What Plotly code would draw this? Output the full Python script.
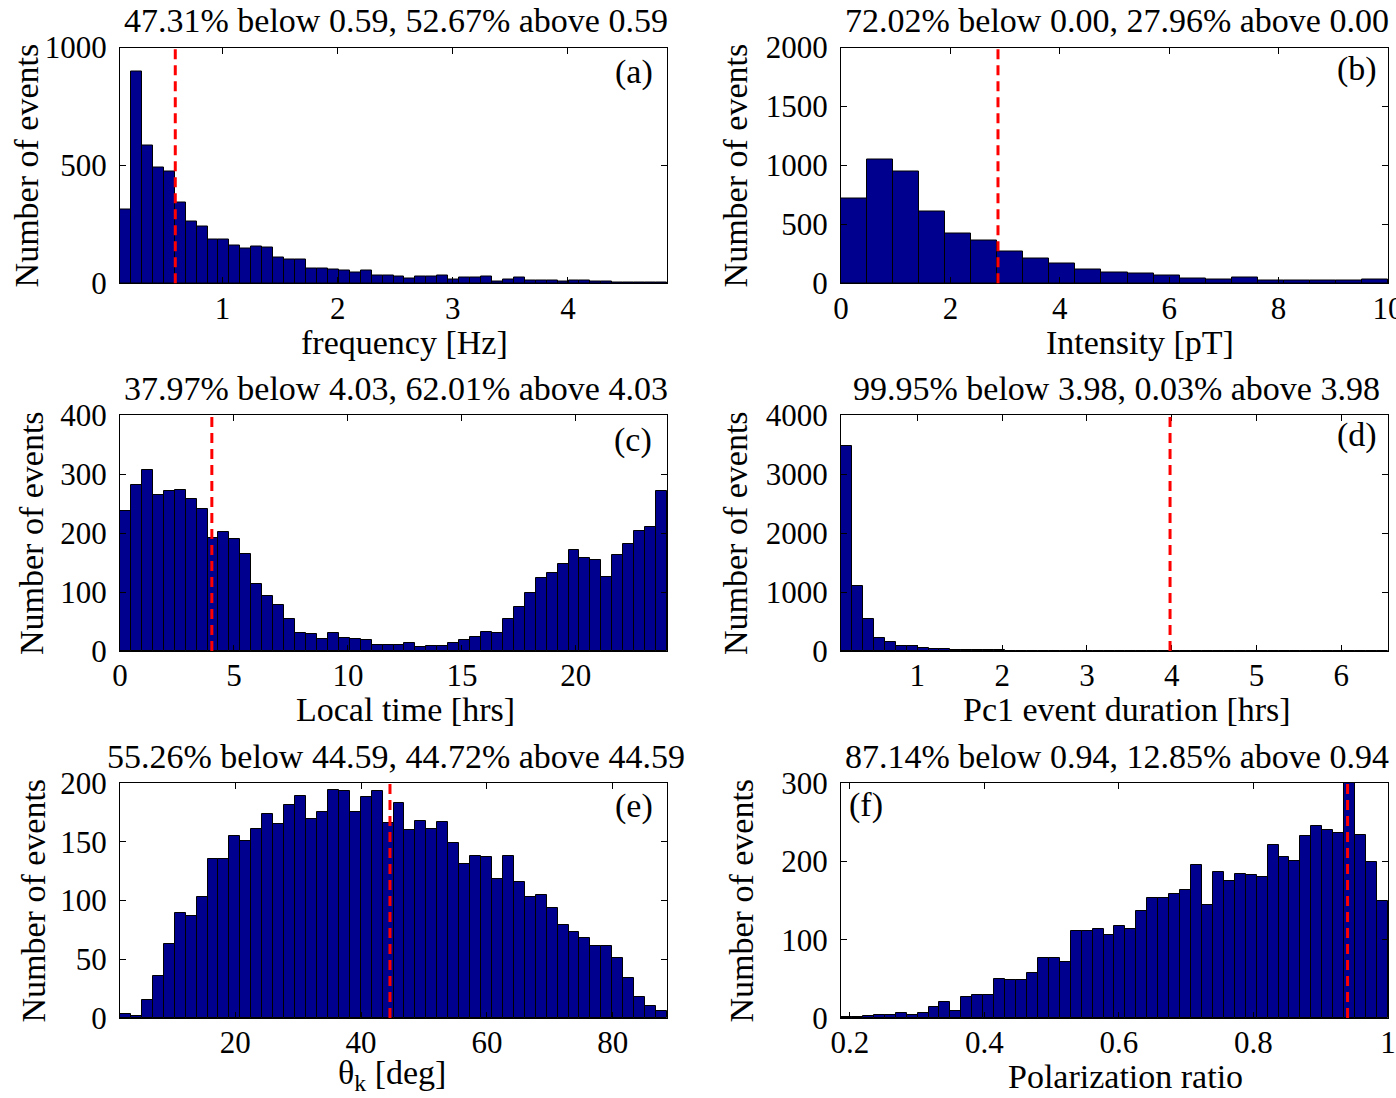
import numpy as np
import plotly.graph_objects as go

W, H = 1396, 1098

# ---------------- data ----------------
freq_start, freq_width = 0.11, 0.095
freq_counts = [311, 900, 586, 491, 474, 344, 264, 239, 187, 187, 161, 149, 156, 151, 110, 101, 101,
               63, 63, 59, 54, 47, 54, 33, 34, 30, 20, 30, 29, 33, 16, 26, 24, 29, 9, 16, 23, 13,
               13, 13, 9, 14, 14, 9, 6, 2, 2, 2, 3, 2]

int_start, int_width = 0.0, 10.0 / 21
int_counts = [717, 1046, 946, 611, 426, 363, 269, 211, 166, 114, 89, 86, 63, 40, 34, 49, 26, 20,
              23, 23, 31]

lt_start, lt_width = 0.0, 0.48
lt_counts = [237, 281, 306, 264, 271, 273, 258, 241, 191, 202, 189, 164, 114, 94, 78, 55, 31, 29,
             20, 30, 22, 20, 19, 11, 11, 10, 13, 7, 9, 8, 13, 18, 23, 32, 31, 55, 75, 99, 123,
             133, 148, 172, 157, 154, 126, 163, 182, 203, 210, 271]

dur_start, dur_width = 0.10, 0.129
dur_counts = [3480, 1100, 537, 215, 158, 85, 85, 45, 34, 28, 22, 17, 14, 11, 9, 7, 6, 5, 4, 3, 3,
              2, 2, 2, 1, 1, 1, 1, 0, 1, 0, 0, 0, 0, 0, 0, 0, 0, 1, 0, 0, 0, 0, 0, 0, 0, 0, 0,
              0, 1]

th_start, th_width = 1.7, 1.738
th_counts = [3, 2, 15, 36, 63, 89, 87, 103, 135, 135, 155, 151, 161, 174, 165, 181, 189, 169, 175,
             194, 193, 175, 188, 193, 166, 183, 160, 168, 161, 167, 149, 131, 138, 137, 118, 138,
             116, 103, 105, 94, 79, 73, 68, 61, 61, 51, 34, 18, 10, 6]

pol_start, pol_width = 0.187, 0.01626
pol_counts = [1, 1, 3, 4, 4, 6, 4, 7, 14, 20, 9, 27, 30, 29, 50, 48, 48, 58, 77, 77, 71, 111, 111,
              114, 106, 118, 114, 136, 153, 153, 158, 163, 195, 144, 186, 175, 184, 183, 180, 221,
              205, 200, 232, 245, 240, 236, 320, 234, 199, 150]

thresholds = [0.59, 2.87, 4.03, 3.98, 44.59, 0.94]
titles = ["47.31% below 0.59, 52.67% above 0.59",
          "72.02% below 0.00, 27.96% above 0.00",
          "37.97% below 4.03, 62.01% above 4.03",
          "99.95% below 3.98, 0.03% above 3.98",
          "55.26% below 44.59, 44.72% above 44.59",
          "87.14% below 0.94, 12.85% above 0.94"]
xlabels = ["frequency [Hz]", "Intensity [pT]", "Local time [hrs]",
           "Pc1 event duration [hrs]", "θ<sub>k</sub> [deg]", "Polarization ratio"]
letters = ["(a)", "(b)", "(c)", "(d)", "(e)", "(f)"]

x_ranges = [[0.11, 4.86], [0, 10.0001], [0, 24], [0.10, 6.55], [1.7, 88.6], [0.187, 1.0001]]
x_ticks = [[1, 2, 3, 4], [0, 2, 4, 6, 8, 10], [0, 5, 10, 15, 20], [1, 2, 3, 4, 5, 6],
           [20, 40, 60, 80], [0.2, 0.4, 0.6, 0.8, 1.0]]
x_ticktext = [["1", "2", "3", "4"], ["0", "2", "4", "6", "8", "10"],
              ["0", "5", "10", "15", "20"], ["1", "2", "3", "4", "5", "6"],
              ["20", "40", "60", "80"], ["0.2", "0.4", "0.6", "0.8", "1"]]
y_ranges = [[0, 1000], [0, 2000], [0, 400], [0, 4000], [0, 200], [0, 300]]
y_dticks = [500, 500, 100, 1000, 50, 100]

hists = [(freq_start, freq_width, freq_counts), (int_start, int_width, int_counts),
         (lt_start, lt_width, lt_counts), (dur_start, dur_width, dur_counts),
         (th_start, th_width, th_counts), (pol_start, pol_width, pol_counts)]

# ---------------- layout geometry (pixels) ----------------
col_x = [(120, 667), (841, 1388)]
row_y = [(47.5, 283.3), (415, 651), (783, 1018)]


def px(x):
    return x / W


def py(y):
    return 1 - y / H


FONT = "Liberation Serif, Times New Roman, serif"
LBL = 34
fig = go.Figure()
annotations = []
shapes = []

ylabel_x = [26, 735, 31, 735, 33, 741]
letter_pos = [(634, 72), (1357, 69), (633, 440), (1357, 435), (634, 806), (866, 805)]
xlabel_pos = [(405, 342), (1140, 342), (406, 709), (1127, 709), (392, 1075), (1125, 1076)]

for i in range(6):
    r, c = divmod(i, 2)
    xa = "x" if i == 0 else f"x{i+1}"
    ya = "y" if i == 0 else f"y{i+1}"
    xkey = "xaxis" if i == 0 else f"xaxis{i+1}"
    ykey = "yaxis" if i == 0 else f"yaxis{i+1}"
    start, width, counts = hists[i]
    centers = start + width * (np.arange(len(counts)) + 0.5)
    fig.add_trace(go.Bar(x=centers, y=counts, width=width, xaxis=xa, yaxis=ya,
                         marker=dict(color="#00008F", line=dict(color="black", width=1)),
                         showlegend=False))
    x0, x1 = col_x[c]
    y0, y1 = row_y[r]
    axis_common = dict(showline=True, linecolor="black", linewidth=1, mirror="ticks",
                       ticks="inside", ticklen=6, tickcolor="black", showgrid=False,
                       zeroline=False, automargin=False, ticklabeloverflow="allow",
                       tickfont=dict(family=FONT, size=31, color="black"))
    fig.update_layout(**{
        xkey: dict(domain=[px(x0), px(x1)], range=x_ranges[i], anchor=ya,
                   tickvals=x_ticks[i], ticktext=x_ticktext[i], ticklabelstandoff=-3,
                   **axis_common),
        ykey: dict(domain=[py(y1), py(y0)], range=y_ranges[i], anchor=xa,
                   dtick=y_dticks[i], tick0=0, ticklabelstandoff=6, **axis_common),
    })
    # threshold line
    shapes.append(dict(type="line", xref=xa, yref=f"{ya} domain", x0=thresholds[i],
                       x1=thresholds[i], y0=0, y1=1,
                       line=dict(color="#FF0000", width=3, dash="10px,6px")))
    # title
    cx = (x0 + x1) / 2
    annotations.append(dict(text=titles[i], x=px(cx + 2), y=py(y0 - 27), xref="paper",
                            yref="paper", showarrow=False, xanchor="center", yanchor="middle",
                            font=dict(family=FONT, size=LBL, color="black")))
    # x label
    lxp, lyp = xlabel_pos[i]
    annotations.append(dict(text=xlabels[i], x=px(lxp), y=py(lyp), xref="paper",
                            yref="paper", showarrow=False, xanchor="center", yanchor="middle",
                            font=dict(family=FONT, size=LBL, color="black")))
    # y label
    annotations.append(dict(text="Number of events", x=px(ylabel_x[i]), y=py((y0 + y1) / 2),
                            xref="paper", yref="paper", showarrow=False, textangle=-90,
                            xanchor="center", yanchor="middle",
                            font=dict(family=FONT, size=LBL, color="black")))
    # panel letter
    lx, ly = letter_pos[i]
    annotations.append(dict(text=letters[i], x=px(lx), y=py(ly), xref="paper", yref="paper",
                            showarrow=False, xanchor="center", yanchor="middle",
                            font=dict(family=FONT, size=LBL, color="black")))

fig.update_layout(width=W, height=H, margin=dict(l=0, r=0, t=0, b=0, autoexpand=False),
                  paper_bgcolor="white", plot_bgcolor="white", bargap=0,
                  annotations=annotations, shapes=shapes,
                  font=dict(family=FONT, size=30, color="black"))

fig.write_html("out.html")
